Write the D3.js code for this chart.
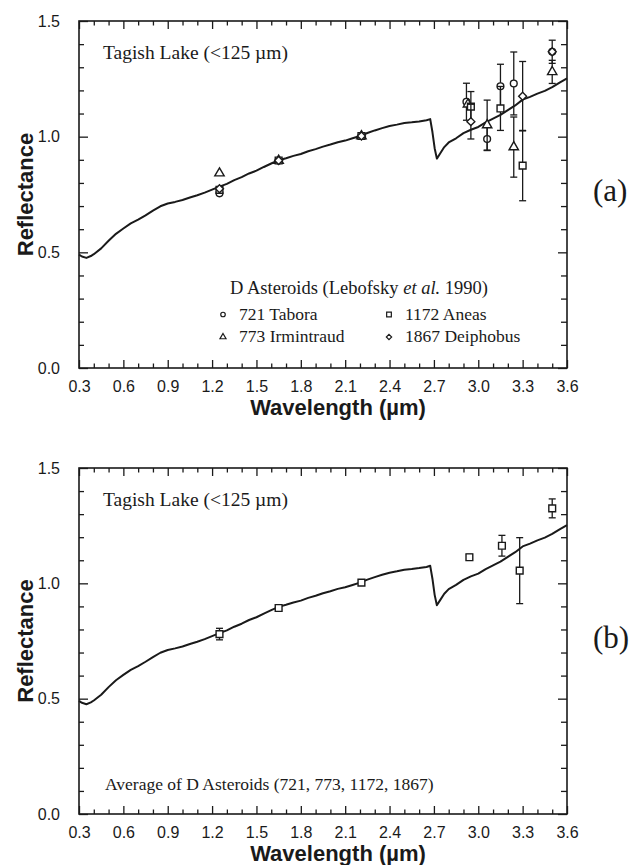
<!DOCTYPE html>
<html>
<head>
<meta charset="utf-8">
<script src="https://cdn.jsdelivr.net/npm/d3@7"></script>
<style>
  body { margin: 0; background: #fff; }
  svg { display: block; }
</style>
</head>
<body>
<svg id="fig" width="644" height="865"></svg>
<script>
// Tagish Lake (<125 µm) reflectance spectrum
const spectrumWavelength = [
  0.30, 0.32, 0.35, 0.38, 0.40, 0.45, 0.50, 0.55, 0.60, 0.65, 0.70, 0.75, 0.80, 0.85,
  0.90, 0.95, 1.00, 1.05, 1.10, 1.15, 1.20, 1.25, 1.30, 1.35, 1.40, 1.45, 1.50, 1.55,
  1.60, 1.65, 1.70, 1.75, 1.80, 1.85, 1.90, 1.95, 2.00, 2.05, 2.10, 2.15, 2.20, 2.25,
  2.30, 2.35, 2.40, 2.45, 2.50, 2.55, 2.60, 2.65, 2.675, 2.69, 2.705, 2.72, 2.74, 2.77,
  2.80, 2.85, 2.90, 2.95, 3.00, 3.05, 3.10, 3.15, 3.20, 3.25, 3.30, 3.35, 3.40, 3.45,
  3.50, 3.55, 3.60
];
const spectrumReflectance = [
  0.490, 0.482, 0.476, 0.484, 0.492, 0.517, 0.550, 0.580, 0.603, 0.625, 0.641, 0.660, 0.680, 0.699,
  0.711, 0.718, 0.726, 0.737, 0.747, 0.758, 0.771, 0.784, 0.796, 0.812, 0.825, 0.841, 0.853, 0.869,
  0.884, 0.898, 0.907, 0.917, 0.925, 0.937, 0.946, 0.957, 0.966, 0.976, 0.983, 0.993, 1.003, 1.016,
  1.027, 1.037, 1.046, 1.052, 1.059, 1.062, 1.066, 1.071, 1.076, 1.020, 0.950, 0.905, 0.925, 0.955,
  0.975, 0.993, 1.015, 1.030, 1.042, 1.062, 1.078, 1.094, 1.115, 1.135, 1.160, 1.172, 1.186, 1.198,
  1.214, 1.234, 1.252
];

// D asteroids (Lebofsky et al. 1990)
const taboraWavelength   = [1.25, 1.65, 2.21, 2.92, 3.06, 3.15, 3.24, 3.50];
const taboraValue        = [0.755, 0.897, 1.003, 1.151, 0.990, 1.218, 1.230, 1.367];
const taboraError        = [0, 0, 0, 0.080, 0.050, 0.095, 0.136, 0.050];

const irmintraudWavelength = [1.25, 1.65, 2.21, 2.93, 3.06, 3.24, 3.50];
const irmintraudValue      = [0.842, 0.897, 1.003, 1.140, 1.050, 0.955, 1.280];
const irmintraudError      = [0, 0, 0, 0, 0.108, 0.130, 0.050];

const aneasWavelength = [1.25, 1.65, 2.21, 2.95, 3.15, 3.30];
const aneasValue      = [0.770, 0.897, 1.003, 1.130, 1.122, 0.875];
const aneasError      = [0, 0, 0, 0.065, 0.095, 0.152];

const deiphobusWavelength = [1.25, 1.65, 2.21, 2.95, 3.30, 3.50];
const deiphobusValue      = [0.775, 0.897, 1.003, 1.065, 1.175, 1.367];
const deiphobusError      = [0, 0, 0, 0.075, 0.150, 0];

// Average of the four D asteroids
const averageWavelength = [1.25, 1.65, 2.21, 2.94, 3.16, 3.28, 3.50];
const averageValue      = [0.780, 0.893, 1.003, 1.113, 1.163, 1.055, 1.325];
const averageError      = [0.025, 0.008, 0.008, 0.013, 0.045, 0.143, 0.041];

// Axis ticks
const xTickValues = [0.3, 0.6, 0.9, 1.2, 1.5, 1.8, 2.1, 2.4, 2.7, 3.0, 3.3, 3.6];
const xTickLabels = ["0.3", "0.6", "0.9", "1.2", "1.5", "1.8", "2.1", "2.4", "2.7", "3.0", "3.3", "3.6"];
const yTickValues = [0.0, 0.5, 1.0, 1.5];
const yTickLabels = ["0.0", "0.5", "1.0", "1.5"];

const legendLabels = ["721 Tabora", "773 Irmintraud", "1172 Aneas", "1867 Deiphobus"];

const INK = "#1a1a1a";
const SANS = "'Liberation Sans', Arial, Helvetica, sans-serif";
const SERIF = "'Liberation Serif', 'Times New Roman', Times, serif";

const svg = d3.select("#fig");

const symbolFor = {
  circle:   d3.symbol().type(d3.symbolCircle).size(36),
  triangle: d3.symbol().type(d3.symbolTriangle).size(38),
  square:   d3.symbol().type(d3.symbolSquare).size(46),
  diamond:  d3.symbol().type(d3.symbolDiamond2).size(40)
};

function drawPanel(top, bottom, panelLabel) {
  const left = 79, right = 567;
  const x = d3.scaleLinear().domain([0.3, 3.6]).range([left, right]);
  const y = d3.scaleLinear().domain([0, 1.5]).range([bottom, top]);
  const g = svg.append("g");

  const minorX = d3.range(4, 36).map(d => d / 10).filter(v => Math.abs((v * 10) % 3) > 0.01);
  const minorY = d3.range(1, 15).map(d => d / 10).filter(v => Math.abs((v * 10) % 5) > 0.01);

  // bottom axis (labels + inward ticks)
  const bx = g.append("g").attr("transform", `translate(0,${bottom})`)
    .call(d3.axisBottom(x).tickValues(xTickValues).tickSizeInner(-8).tickSizeOuter(0)
      .tickPadding(13).tickFormat((d, i) => xTickLabels[i]));
  g.append("g").attr("transform", `translate(0,${bottom})`)
    .call(d3.axisBottom(x).tickValues(minorX).tickSizeInner(-4.5).tickSizeOuter(0).tickFormat(""));
  // top axis
  g.append("g").attr("transform", `translate(0,${top})`)
    .call(d3.axisTop(x).tickValues(xTickValues).tickSizeInner(-8).tickSizeOuter(0).tickFormat(""));
  g.append("g").attr("transform", `translate(0,${top})`)
    .call(d3.axisTop(x).tickValues(minorX).tickSizeInner(-4.5).tickSizeOuter(0).tickFormat(""));
  // left axis
  g.append("g").attr("transform", `translate(${left},0)`)
    .call(d3.axisLeft(y).tickValues(yTickValues).tickSizeInner(-9).tickSizeOuter(0)
      .tickPadding(19).tickFormat((d, i) => yTickLabels[i]));
  g.append("g").attr("transform", `translate(${left},0)`)
    .call(d3.axisLeft(y).tickValues(minorY).tickSizeInner(-5).tickSizeOuter(0).tickFormat(""));
  // right axis
  g.append("g").attr("transform", `translate(${right},0)`)
    .call(d3.axisRight(y).tickValues(yTickValues).tickSizeInner(-9).tickSizeOuter(0).tickFormat(""));
  g.append("g").attr("transform", `translate(${right},0)`)
    .call(d3.axisRight(y).tickValues(minorY).tickSizeInner(-6).tickSizeOuter(0).tickFormat(""));

  g.selectAll(".domain").remove();
  g.selectAll(".tick line").attr("stroke", INK).attr("stroke-width", 1.3);
  g.selectAll(".tick text").attr("fill", INK).attr("font-family", SANS).attr("font-size", 16);

  // frame
  g.append("rect").attr("x", left).attr("y", top)
    .attr("width", right - left).attr("height", bottom - top)
    .attr("fill", "none").attr("stroke", INK).attr("stroke-width", 1.6);

  // spectrum
  const line = d3.line().x(d => x(d[0])).y(d => y(d[1]));
  g.append("path")
    .datum(spectrumWavelength.map((w, i) => [w, spectrumReflectance[i]]))
    .attr("d", line).attr("fill", "none").attr("stroke", INK)
    .attr("stroke-width", 2).attr("stroke-linejoin", "round");

  // axis titles
  g.append("text").attr("transform", `translate(33,${(top + bottom) / 2}) rotate(-90)`)
    .attr("text-anchor", "middle").attr("font-family", SANS).attr("font-weight", "bold")
    .attr("font-size", 22).attr("fill", INK).text("Reflectance");
  g.append("text").attr("x", 338).attr("y", bottom + 47)
    .attr("text-anchor", "middle").attr("font-family", SANS).attr("font-weight", "bold")
    .attr("font-size", 22).attr("fill", INK).text("Wavelength (\u00b5m)");

  g.append("text").attr("x", 103).attr("y", top + 38)
    .attr("font-family", SERIF).attr("font-size", 19.5).attr("fill", INK)
    .text("Tagish Lake (<125 \u00b5m)");

  g.append("text").attr("x", 593).attr("y", top + 180)
    .attr("font-family", SERIF).attr("font-size", 31).attr("fill", INK).text(panelLabel);

  return { g, x, y };
}

function drawSeries(p, wl, val, err, shape) {
  const pts = wl.map((w, i) => ({ w, v: val[i], e: err[i] }));
  const eb = p.g.append("g").attr("stroke", INK).attr("stroke-width", 1.3);
  pts.filter(d => d.e > 0).forEach(d => {
    const cx = p.x(d.w), y1 = p.y(d.v + d.e), y2 = p.y(d.v - d.e);
    eb.append("line").attr("x1", cx).attr("x2", cx).attr("y1", y1).attr("y2", y2);
    eb.append("line").attr("x1", cx - 3.5).attr("x2", cx + 3.5).attr("y1", y1).attr("y2", y1);
    eb.append("line").attr("x1", cx - 3.5).attr("x2", cx + 3.5).attr("y1", y2).attr("y2", y2);
  });
  p.g.append("g").selectAll("path").data(pts).join("path")
    .attr("transform", d => `translate(${p.x(d.w)},${p.y(d.v)})`)
    .attr("d", symbolFor[shape]())
    .attr("fill", "#fff").attr("stroke", INK).attr("stroke-width", 1.4);
}

// Panel (a)
const pa = drawPanel(21, 368, "(a)");
drawSeries(pa, taboraWavelength, taboraValue, taboraError, "circle");
drawSeries(pa, irmintraudWavelength, irmintraudValue, irmintraudError, "triangle");
drawSeries(pa, aneasWavelength, aneasValue, aneasError, "square");
drawSeries(pa, deiphobusWavelength, deiphobusValue, deiphobusError, "diamond");

// legend
const lg = pa.g.append("g").attr("font-family", SERIF).attr("fill", INK);
const title = lg.append("text").attr("x", 230).attr("y", 294).attr("font-size", 18.5);
title.append("tspan").text("D Asteroids (Lebofsky ");
title.append("tspan").attr("font-style", "italic").text("et al.");
title.append("tspan").text(" 1990)");
const legendShapes = ["circle", "triangle", "square", "diamond"];
const legendSymbol = {
  circle:   d3.symbol().type(d3.symbolCircle).size(16),
  triangle: d3.symbol().type(d3.symbolTriangle).size(16),
  square:   d3.symbol().type(d3.symbolSquare).size(22),
  diamond:  d3.symbol().type(d3.symbolDiamond2).size(18)
};
legendLabels.forEach((lab, i) => {
  const col = Math.floor(i / 2), row = i % 2;
  const sx = col === 0 ? 223 : 389;
  const by = row === 0 ? 319.5 : 342;
  lg.append("path").attr("transform", `translate(${sx},${by - 5})`)
    .attr("d", legendSymbol[legendShapes[i]]())
    .attr("fill", "#fff").attr("stroke", INK).attr("stroke-width", 1.2);
  lg.append("text").attr("x", sx + 16).attr("y", by).attr("font-size", 17.5).text(lab);
});

// Panel (b)
const pb = drawPanel(468, 814, "(b)");
drawSeries(pb, averageWavelength, averageValue, averageError, "square");
pb.g.append("text").attr("x", 105).attr("y", 790)
  .attr("font-family", SERIF).attr("font-size", 17.5).attr("fill", INK)
  .text("Average of D Asteroids (721, 773, 1172, 1867)");
</script>
</body>
</html>
